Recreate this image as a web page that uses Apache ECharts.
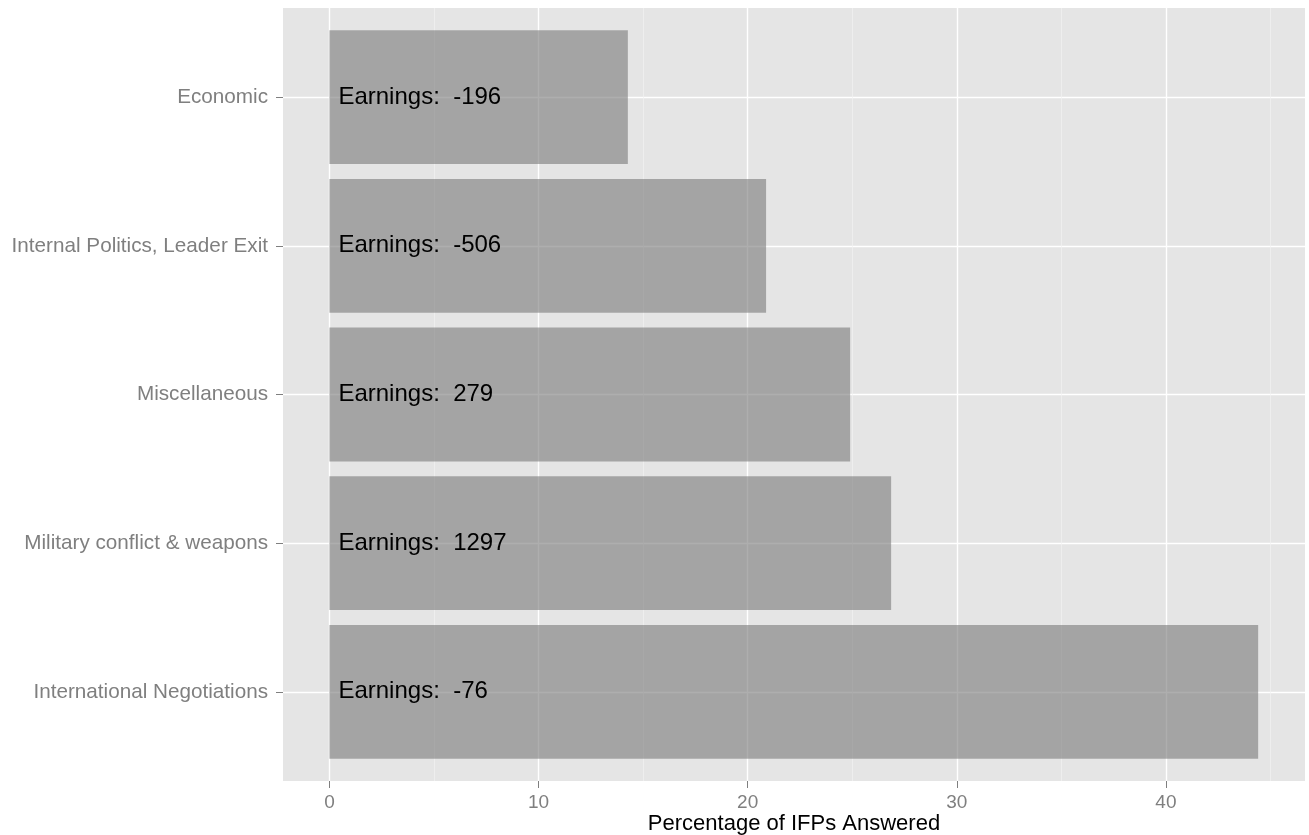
<!DOCTYPE html>
<html>
<head>
<meta charset="utf-8">
<script src="https://cdn.jsdelivr.net/npm/echarts@6/dist/echarts.min.js"></script>
<style>html,body{margin:0;padding:0;background:#fff}#chart{width:1309px;height:835px}</style>
</head>
<body>
<div id="chart"></div>
<script>
const categories = ['Economic', 'Internal Politics, Leader Exit', 'Miscellaneous', 'Military conflict & weapons', 'International Negotiations'];
const percentAnswered = [14.27, 20.88, 24.9, 26.86, 44.41];
const earnings = [-196, -506, 279, 1297, -76];
const majorTicks = [0, 10, 20, 30, 40];
const minorTicks = [5, 15, 25, 35, 45];
const categoryPositions = categories.map((c, i) => i);
const xMin = -2.22, xMax = 46.65;

const FONT = '"Liberation Sans", Arial, sans-serif';
const chart = echarts.init(document.getElementById('chart'), null, {renderer: 'canvas'});
chart.setOption({
  animation: false,
  grid: [
    {left: 283, right: 4, top: 8, bottom: 54, show: true, backgroundColor: '#e5e5e5', borderWidth: 0, outerBoundsMode: 'none', containLabel: false},
    {left: 283, right: 4, top: 22.85, bottom: 68.85, show: false, borderWidth: 0, outerBoundsMode: 'none', containLabel: false}
  ],
  xAxis: [
    {
      type: 'value', gridIndex: 0, min: xMin, max: xMax, position: 'bottom',
      name: 'Percentage of IFPs Answered', nameLocation: 'middle', nameGap: 32, nameMoveOverlap: false,
      nameTextStyle: {color: '#000', fontSize: 22, fontFamily: FONT},
      axisLine: {show: false, onZero: false},
      axisTick: {show: true, length: 7, customValues: majorTicks, lineStyle: {color: '#7f7f7f', width: 1}},
      axisLabel: {show: true, customValues: majorTicks, margin: 12, color: '#7f7f7f', fontSize: 19, fontFamily: FONT},
      splitLine: {show: true, lineStyle: {color: '#ffffff', width: 1.4}}
    },
    {
      type: 'value', gridIndex: 0, min: xMin, max: xMax, position: 'bottom',
      axisLine: {show: false, onZero: false},
      axisTick: {show: false, customValues: minorTicks},
      axisLabel: {show: false, customValues: minorTicks},
      splitLine: {show: true, lineStyle: {color: '#f2f2f2', width: 0.7}}
    },
    {
      type: 'value', gridIndex: 1, min: xMin, max: xMax, show: false
    }
  ],
  yAxis: [
    {
      type: 'value', gridIndex: 0, min: -0.6, max: 4.6, inverse: true, position: 'left',
      axisLine: {show: false, onZero: false},
      axisTick: {show: true, length: 7, customValues: categoryPositions, lineStyle: {color: '#7f7f7f', width: 1}},
      axisLabel: {show: true, customValues: categoryPositions, formatter: v => categories[Math.round(v)],
                  margin: 15, color: '#7f7f7f', fontSize: 20.7, fontFamily: FONT},
      splitLine: {show: true, lineStyle: {color: '#ffffff', width: 1.4}}
    },
    {
      type: 'category', gridIndex: 1, data: categories, inverse: true, show: false
    }
  ],
  series: [{
    type: 'bar', xAxisIndex: 2, yAxisIndex: 1,
    data: percentAnswered,
    barWidth: '90%',
    itemStyle: {color: 'rgba(127,127,127,0.63)'},
    label: {
      show: true, position: 'insideLeft', distance: 9,
      formatter: p => 'Earnings:  ' + earnings[p.dataIndex],
      color: '#000', fontSize: 24, fontFamily: FONT
    }
  }]
});
</script>
</body>
</html>
